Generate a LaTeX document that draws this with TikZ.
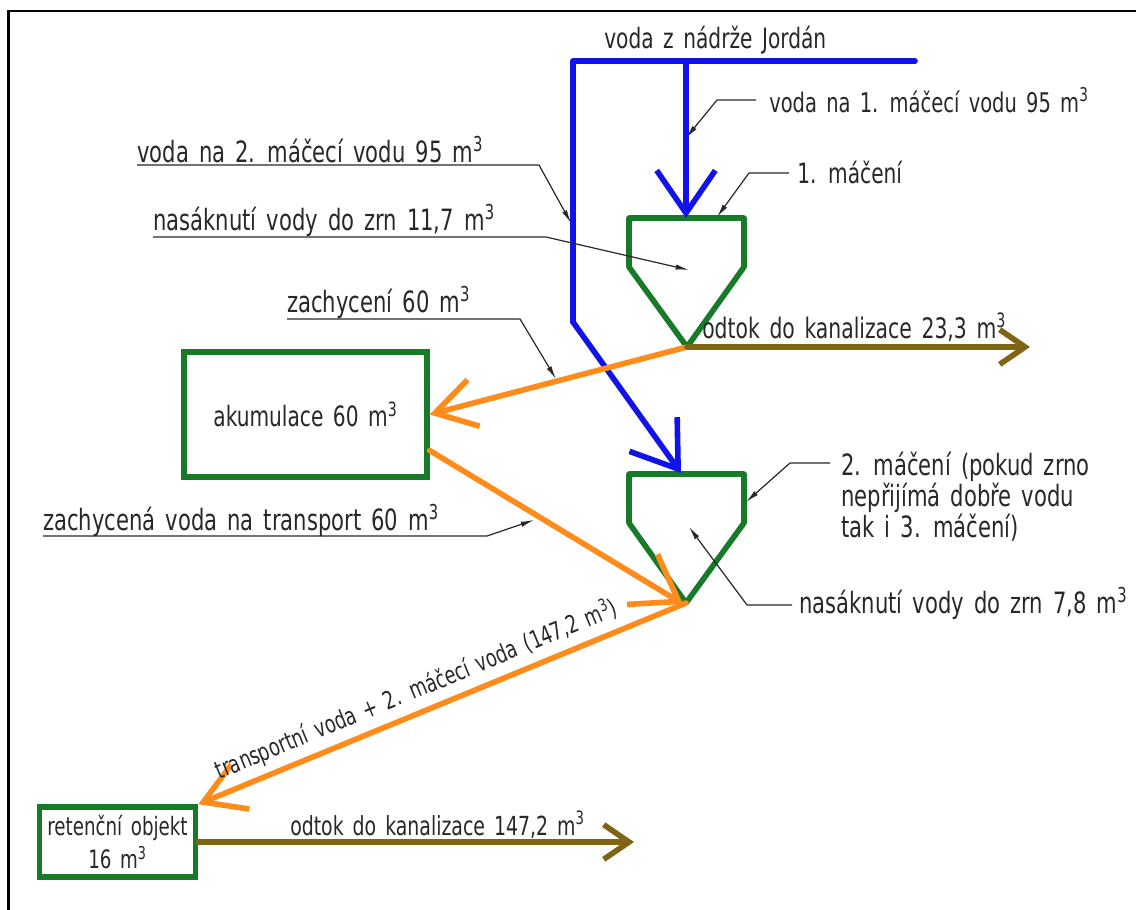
\documentclass[tikz,border=0pt]{standalone}
\usepackage{fontspec}
\usetikzlibrary{arrows.meta,calc}
\newfontfamily\cadfont[FakeStretch=0.8,WordSpace=1.5]{DejaVu Sans Condensed}
\definecolor{pipeblue}{RGB}{18,18,235}
\definecolor{tankgreen}{RGB}{22,122,40}
\definecolor{pipeorange}{RGB}{255,140,26}
\definecolor{drainbrown}{RGB}{128,100,22}
\definecolor{inkgray}{RGB}{40,40,40}
\tikzset{
  pipe/.style={line width=4.2pt, line cap=round, line join=round},
  tank/.style={draw=tankgreen, line width=4.2pt, line join=round},
  box/.style={draw=tankgreen, line width=4.2pt, inner sep=0pt, text=inkgray,
    font=\cadfont\fontsize{21}{25}\selectfont},
  lbl/.style={font=\cadfont\fontsize{22}{26}\selectfont, text=inkgray, inner sep=0pt, anchor=base west},
  fs/.style={font=\cadfont\fontsize{#1}{#1}\selectfont},
  leader/.style={draw=inkgray, line width=0.9pt, line join=round, -{Latex[length=10pt,width=4pt]}},
  bigbarb/.style={-{Straight Barb[length=32pt,width=44pt]}},
  midbarb/.style={-{Straight Barb[length=30pt,width=36pt]}},
  smallbarb/.style={-{Straight Barb[length=19pt,width=26pt]}},
}
\begin{document}
\begin{tikzpicture}[x=0.75pt,y=-0.75pt]
\useasboundingbox (0,0) rectangle (1136,910);
\fill[white] (0,0) rectangle (1136,910);

% drawing frame
\draw[line width=2.2pt] (8.5,910) -- (8.5,11) -- (1136,11);

% key points of the pipework
\coordinate (srcE) at (915,61);
\coordinate (srcW) at (573,61);
\coordinate (tap1) at (686,61);
\coordinate (bend) at (573,322);
\coordinate (t1in) at (686,218);
\coordinate (t1bot) at (687,347);
\coordinate (t2in) at (681,473);
\coordinate (t2bot) at (686,603);
\coordinate (t2inlet) at (683,604);
\coordinate (drain1) at (1030,347);
\coordinate (drain2) at (634,842);

% steeping tanks
\draw[tank] (629,218) -- (744,218) -- (744,267) -- (t1bot) -- (629,267) -- cycle;
\draw[tank] (629,474) -- (744,474) -- (744,523) -- (t2bot) -- (629,523) -- cycle;

% storage tanks
\node[box, minimum width=182pt, minimum height=94pt] (acc) at (305.5,414.5) {akumulace 60 m\textsuperscript{3}};
\node[box, minimum width=117pt, minimum height=52.5pt, align=center,
      font=\cadfont\fontsize{19}{24.5}\selectfont] (ret) at (117.5,842) {retenční objekt\\16 m\textsuperscript{3}};

% fresh water supply
\draw[pipe, pipeblue] (srcE) -- (srcW) -- (bend);
\draw[pipe, pipeblue, bigbarb] (bend) -- (t2in);
\draw[pipe, pipeblue, bigbarb] (tap1) -- (t1in);

% recovered and transport water
\draw[pipe, pipeorange, midbarb] (t1bot) -- (acc.east);
\coordinate (accout) at ($(acc.east)+(0,36)$);
\draw[pipe, pipeorange, bigbarb] (accout) -- (t2inlet);
\draw[pipe, pipeorange, midbarb] (t2bot) -- (ret.north east)
  node[pos=0.535, sloped, above=5pt, inner sep=0pt, text=inkgray, fs=18.5] (trlbl)
  {transportní voda + 2. máčecí voda (147,2 m\textsuperscript{3})};

% discharge to sewer
\draw[pipe, drainbrown, smallbarb] (t1bot) -- (drain1);
\draw[pipe, drainbrown, smallbarb] (ret.east) -- (drain2);

% labels
\node[lbl, fs=21] (jordan) at (604,48) {voda z nádrže Jordán};
\node[lbl, fs=20.3] (v1) at (769,112) {voda na 1. máčecí vodu 95 m\textsuperscript{3}};
\node[lbl, fs=21] (m1) at (797,183) {1. máčení};
\node[lbl] (v2) at (137,162) {voda na 2. máčecí vodu 95 m\textsuperscript{3}};
\node[lbl] (n1) at (153,230) {nasáknutí vody do zrn 11,7 m\textsuperscript{3}};
\node[lbl] (zach) at (287,312) {zachycení 60 m\textsuperscript{3}};
\node[lbl] (zt) at (43,530) {zachycená voda na transport 60 m\textsuperscript{3}};
\node[lbl, fs=21.2] (o1) at (702,338) {odtok do kanalizace 23,3 m\textsuperscript{3}};
\node[lbl, anchor=north west, align=left, font=\cadfont\fontsize{22}{21.5}\selectfont] (m2) at (841,452)
  {2. máčení (pokud zrno\\nepřijímá dobře vodu\\tak i 3. máčení)};
\node[lbl] (n2) at (799,613) {nasáknutí vody do zrn 7,8 m\textsuperscript{3}};
\node[lbl, fs=19.7] (o2) at (290,835) {odtok do kanalizace 147,2 m\textsuperscript{3}};

% leader lines
\coordinate (a1) at (686,138);
\coordinate (a2) at (571,223);
\coordinate (a3) at (689,270);
\coordinate (a4) at (556,379);
\coordinate (a5) at (534,520);
\coordinate (a6) at (717,217);
\coordinate (a7) at (746,502);
\coordinate (a8) at (689,527);
\draw[leader] (756,100) -- (717,100) -- (a1);
\draw[leader] (137,165) -- (539,165) -- (a2);
\draw[leader] (153,237) -- (546,237) -- (a3);
\draw[leader] (287,319) -- (520,319) -- (a4);
\draw[leader] (43,536) -- (487,536) -- (a5);
\draw[leader] (789,173) -- (749,173) -- (a6);
\draw[leader] (830,463) -- (790,463) -- (a7);
\draw[leader] (792,605) -- (747,605) -- (a8);
\end{tikzpicture}
\end{document}
